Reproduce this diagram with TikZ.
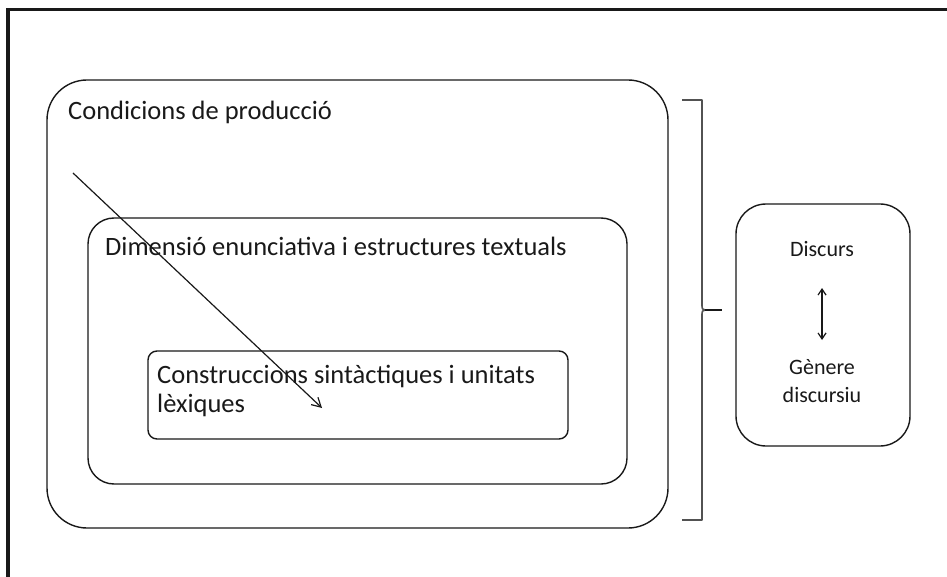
\documentclass[tikz,border=0pt]{standalone}
\usepackage{fontspec}
\setmainfont{Carlito}
\usetikzlibrary{arrows.meta}
\definecolor{ink}{RGB}{25,25,25}
\tikzset{
  box/.style={draw=ink, line width=1.4pt, fill=none},
  lbl/.style={font=\fontsize{26.5}{29}\selectfont, text=ink, inner sep=0pt},
  small/.style={font=\fontsize{22}{28}\selectfont, text=ink, inner sep=0pt},
  pointer/.style={draw=ink, line width=1.2pt, -{Straight Barb[length=9pt,width=10pt,line width=1.2pt]}},
  twoway/.style={draw=ink, line width=1.2pt, {Straight Barb[length=6pt,width=8pt,line width=1.2pt]}-{Straight Barb[length=6pt,width=8pt,line width=1.2pt]}},
  brace/.style={draw=ink!75, line width=1.6pt, line join=round},
}
\begin{document}
\begin{tikzpicture}[x=1pt,y=-1pt]
\useasboundingbox (0,0) rectangle (947,577);
% frame: top and left edges only
\draw[ink, line width=3.6pt] (7.8,577) -- (7.8,9.6) -- (947,9.6);

% nested boxes
\node[box, rounded corners=40pt, minimum width=621pt, minimum height=448pt] (prod) at (357.5,304) {};
\node[box, rounded corners=26pt, minimum width=539pt, minimum height=266pt] (dim) at (357.5,351) {};
\node[box, rounded corners=9pt, minimum width=420pt, minimum height=88pt] (cons) at (358,395) {};
\node[box, rounded corners=30pt, minimum width=174pt, minimum height=242pt] (disc) at (823,325) {};

% labels
\node[lbl, anchor=base west] (tprod) at (68,120) {Condicions de producció};
\node[lbl, anchor=base west] (tdim) at (105,255) {Dimensió enunciativa i estructures textuals};
\node[lbl, anchor=north west, align=left] (tcons) at (157,365) {Construccions sintàctiques i unitats\\lèxiques};
\node[small, anchor=base] (tdisc) at (822,257) {Discurs};
\node[small, anchor=north, align=center] (tgen) at (822,359) {Gènere\\discursiu};

% arrows
\coordinate (from) at (73,173);
\coordinate (to) at (322,408);
\draw[pointer] (from) -- (to);
\coordinate (up) at (822,288);
\coordinate (down) at (822,340);
\draw[twoway] (up) -- (down);

% bracket grouping the nested boxes, with a small point at its middle
\draw[brace] (682,100) -- (702,100) -- (702,306) .. controls (702,309) .. (705,310)
             .. controls (702,311) .. (702,314) -- (702,520) -- (682,520);
\draw[ink, line width=1.6pt] (705,310) -- (722,310);
\end{tikzpicture}
\end{document}
